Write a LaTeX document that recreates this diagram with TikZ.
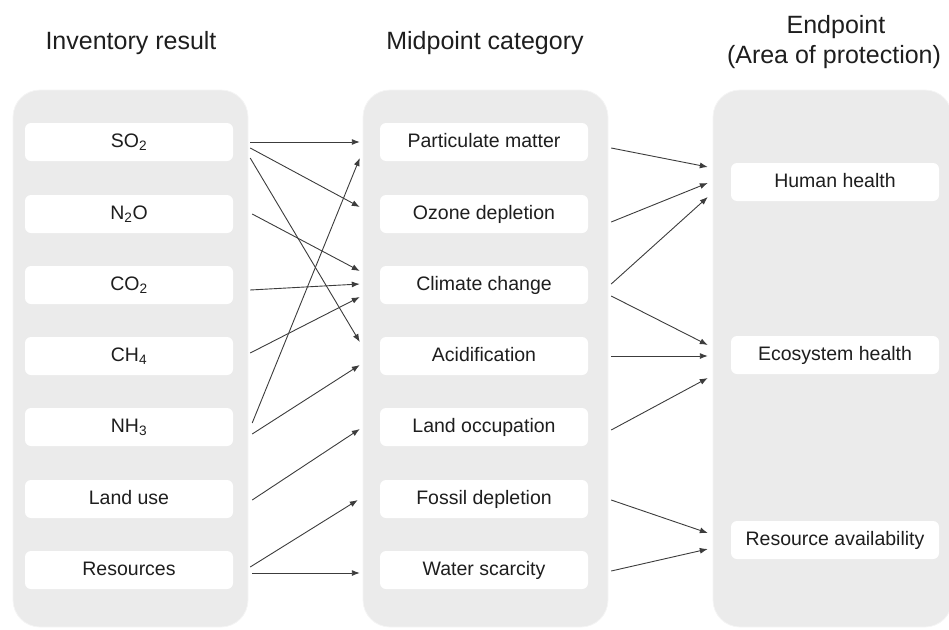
\documentclass[tikz,border=0pt]{standalone}
\usepackage{fontspec}
\setmainfont{Liberation Sans}
\usetikzlibrary{arrows.meta}
\definecolor{panelgray}{HTML}{EBEBEB}
\definecolor{arrowgray}{HTML}{3C3C3C}
\definecolor{textgray}{HTML}{1E1E1E}
\tikzset{
  panel/.style={fill=panelgray, draw=white!96!black, line width=0.8pt, rounded corners=27pt},
  itembox/.style={fill=white, draw=none, rounded corners=6pt, minimum width=208pt, minimum height=38pt,
    inner sep=0pt, text height=14pt, text depth=4pt, font=\fontsize{19.5}{23}\selectfont, text=textgray},
  title/.style={anchor=base, font=\fontsize{25}{28}\selectfont, text=textgray, inner sep=0pt},
  conn/.style={draw=arrowgray, line width=0.9pt, -{Latex[length=8pt,width=6pt]}}
}
\begin{document}
\begin{tikzpicture}[x=1pt,y=-1pt]
\useasboundingbox (0,0) rectangle (949,629);
% panels
\path[panel] (13,90) rectangle (248,627);
\path[panel] (363,90) rectangle (608,627);
\path[panel] (713,90) rectangle (952,627);
% titles
\node[title] (t1) at (131,49) {Inventory result};
\node[title] (t2) at (485,49) {Midpoint category};
\node[title] (t3) at (836,33) {Endpoint};
\node[title] (t4) at (834,63) {(Area of protection)};
% inventory
\node[itembox] (so2) at (129,142) {SO\textsubscript{2}};
\node[itembox] (n2o) at (129,214) {N\textsubscript{2}O};
\node[itembox] (co2) at (129,285) {CO\textsubscript{2}};
\node[itembox] (ch4) at (129,356) {CH\textsubscript{4}};
\node[itembox] (nh3) at (129,427) {NH\textsubscript{3}};
\node[itembox] (land) at (129,499) {Land use};
\node[itembox] (res) at (129,570) {Resources};
% midpoint
\node[itembox] (pm) at (484,142) {Particulate matter};
\node[itembox] (oz) at (484,214) {Ozone depletion};
\node[itembox] (cc) at (484,285) {Climate change};
\node[itembox] (ac) at (484,356) {Acidification};
\node[itembox] (lo) at (484,427) {Land occupation};
\node[itembox] (fd) at (484,499) {Fossil depletion};
\node[itembox] (ws) at (484,570) {Water scarcity};
% endpoint
\node[itembox] (hh) at (835,182) {Human health};
\node[itembox] (eh) at (835,355) {Ecosystem health};
\node[itembox] (ra) at (835,540) {Resource availability};
% inventory -> midpoint
\draw[conn] ([shift={(17,0)}]so2.east) -- ([shift={(-20,0)}]pm.west);
\draw[conn] ([shift={(17,6)}]so2.east) -- ([shift={(-20,-7)}]oz.west);
\draw[conn] ([shift={(17,16)}]so2.east) -- ([shift={(-20,-14)}]ac.west);
\draw[conn] ([shift={(19,0)}]n2o.east) -- ([shift={(-20,-14)}]cc.west);
\draw[conn] ([shift={(17,5)}]co2.east) -- ([shift={(-20,-1)}]cc.west);
\draw[conn] ([shift={(17,-3)}]ch4.east) -- ([shift={(-20,12)}]cc.west);
\draw[conn] ([shift={(19,-4)}]nh3.east) -- ([shift={(-20,16)}]pm.west);
\draw[conn] ([shift={(19,7)}]nh3.east) -- ([shift={(-20,9)}]ac.west);
\draw[conn] ([shift={(19,1)}]land.east) -- ([shift={(-20,2)}]lo.west);
\draw[conn] ([shift={(17,-3)}]res.east) -- ([shift={(-22,1)}]fd.west);
\draw[conn] ([shift={(19,3)}]res.east) -- ([shift={(-20,3)}]ws.west);
% midpoint -> endpoint
\draw[conn] ([shift={(23,6)}]pm.east) -- ([shift={(-23,-15)}]hh.west);
\draw[conn] ([shift={(23,8)}]oz.east) -- ([shift={(-23,1)}]hh.west);
\draw[conn] ([shift={(23,-1)}]cc.east) -- ([shift={(-23,15)}]hh.west);
\draw[conn] ([shift={(23,11)}]cc.east) -- ([shift={(-23,-10)}]eh.west);
\draw[conn] ([shift={(23,0)}]ac.east) -- ([shift={(-23,1)}]eh.west);
\draw[conn] ([shift={(23,3)}]lo.east) -- ([shift={(-23,23)}]eh.west);
\draw[conn] ([shift={(23,1)}]fd.east) -- ([shift={(-23,-7)}]ra.west);
\draw[conn] ([shift={(23,1)}]ws.east) -- ([shift={(-23,9)}]ra.west);
\end{tikzpicture}
\end{document}
